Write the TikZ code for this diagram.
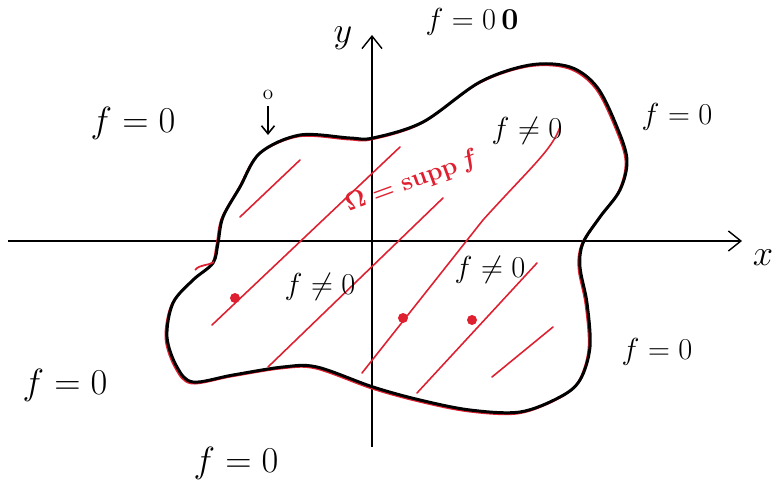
\documentclass[tikz,border=0pt]{standalone}
\usepackage{amsmath,amssymb}
\usepackage{xcolor}
\usetikzlibrary{arrows.meta}
\definecolor{pen}{RGB}{222,32,48}

\begin{document}
\begin{tikzpicture}[
    x=0.02cm, y=-0.02cm,
    every node/.style={font=\huge},
    axis/.style={line width=0.8pt, -{Straight Barb[length=2.5mm,width=4mm]}},
    outline/.style={line width=1.7pt, black},
    trace/.style={line width=1pt, pen},
    hatch/.style={line width=0.9pt, pen, line cap=round},
    point/.style={circle, fill=pen, inner sep=0pt, minimum size=2mm},
    small/.style={font=\LARGE}
]
\useasboundingbox (0,0) rectangle (779,483);

% axes
\coordinate (xs) at (8,241);
\coordinate (xe) at (742,241);
\coordinate (ys) at (372,447);
\coordinate (ye) at (372,35);
\draw[axis] (xs) -- (xe);
\draw[axis] (ys) -- (ye);
\node (xl) at (763,258) {$x$};
\node (yl) at (343,38) {$y$};

% support of f: red trace under the black outline
\begin{scope}[shift={(-1.5,1.5)}]
\draw[trace] plot[smooth cycle, tension=0.55] coordinates {
    (373,138) (423,122) (480,82) (530,65) (570,67) (597,87) (617,127)
    (627,160) (620,190) (600,217) (583,243) (580,267) (587,303) (590,347)
    (580,380) (560,397) (520,412) (470,410) (420,400) (373,387) (317,367)
    (283,367) (233,375) (193,382) (177,367) (167,337) (173,303) (193,280)
    (213,263) (218,243) (223,217) (240,187) (260,153) (300,135) (350,138)};
\end{scope}
\draw[outline] plot[smooth cycle, tension=0.55] coordinates {
    (373,138) (423,122) (480,82) (530,65) (570,67) (597,87) (617,127)
    (627,160) (620,190) (600,217) (583,243) (580,267) (587,303) (590,347)
    (580,380) (560,397) (520,412) (470,410) (420,400) (373,387) (317,367)
    (283,367) (233,375) (193,382) (177,367) (167,337) (173,303) (193,280)
    (213,263) (218,243) (223,217) (240,187) (260,153) (300,135) (350,138)};
\draw[trace] (195,270) .. controls (200,264) and (208,266) .. (214,262);

% hatching
\draw[hatch] (240,217) -- (300,160);
\draw[hatch] (212,325) -- (400,147);
\draw[hatch] (268,367) -- (443,198);
\draw[hatch] (362,373) -- (483,220) .. controls (530,168) and (552,150) .. (560,127);
\draw[hatch] (417,393) -- (537,263);
\draw[hatch] (492,377) -- (553,327);

\node[point] (p1) at (235,298) {};
\node[point] (p2) at (403,318) {};
\node[point] (p3) at (472,320) {};

\node[pen, font=\Large\boldmath, rotate=20] (supp) at (412,182) {$\Omega=\operatorname{supp} f$};

% boundary marker
\node[font=\large] (ring) at (268,95) {o};
\coordinate (ringtip) at (268,135);
\draw[line width=0.9pt, -{Straight Barb[length=1.6mm,width=2.6mm]}] (ring) -- (ringtip);

% values of f
\node[small] (nz1) at (527,131) {$f\neq0$};
\node[small] (nz2) at (320,287) {$f\neq0$};
\node[small] (nz3) at (490,270) {$f\neq0$};

\node[small] (z1) at (472,22) {$f=0\,\mathbf{0}$};
\node (z2) at (133,123) {$f=0$};
\node[small] (z3) at (677,117) {$f=0$};
\node[small] (z4) at (657,352) {$f=0$};
\node (z5) at (65,385) {$f=0$};
\node (z6) at (236,463) {$f=0$};

\end{tikzpicture}
\end{document}
